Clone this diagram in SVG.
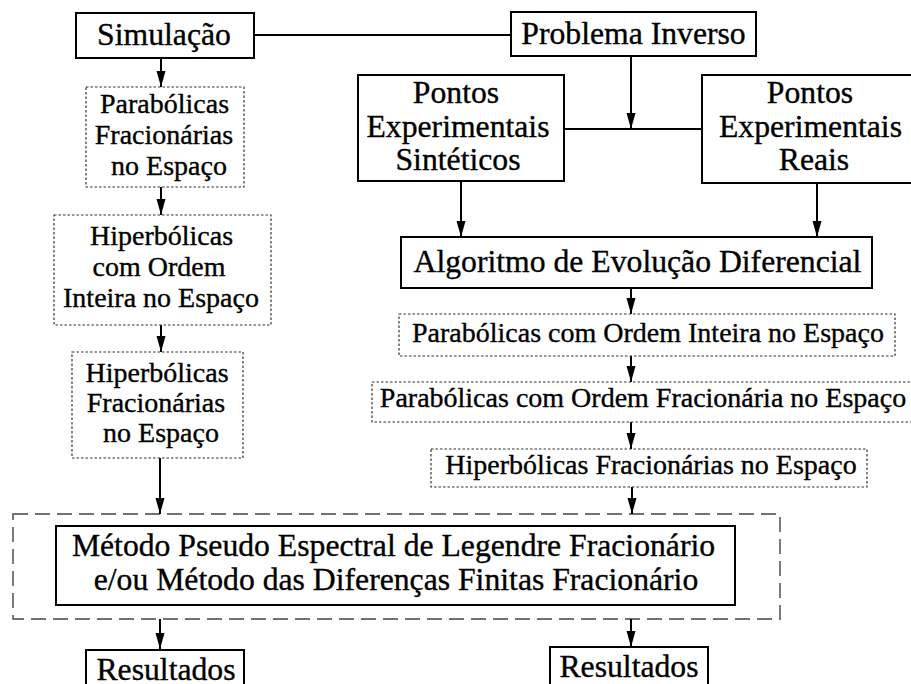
<svg xmlns="http://www.w3.org/2000/svg" width="911" height="684" viewBox="0 0 911 684">
<style>
text{font-family:'Liberation Serif','Times New Roman',serif;fill:#000;stroke:#000;stroke-width:0.35;text-anchor:middle}
.big{font-size:31.7px}
.sm{font-size:28px}
.solid{fill:#fff;stroke:#000;stroke-width:2}
.dot{fill:#fff;stroke:#333;stroke-width:1.2;stroke-dasharray:2.5 2}
.dash{fill:none;stroke:#444;stroke-width:1.4;stroke-dasharray:15 7}
.con{stroke:#000;stroke-width:2;fill:none}
.arr{marker-end:url(#ah)}
</style>
<defs>
<marker id="ah" viewBox="0 0 16 10" refX="16" refY="5" markerWidth="16" markerHeight="10" markerUnits="userSpaceOnUse" orient="auto">
<path d="M0,0.5 L16,5 L0,9.5 z" fill="#000"/>
</marker>
</defs>
<rect width="911" height="684" fill="#fff"/>

<g id="outer">
<rect class="dash" x="13" y="514" width="767" height="105"/>
</g>

<g id="connectors">
<line class="con" x1="254" y1="35" x2="511" y2="35"/>
<line class="con" x1="564" y1="129" x2="702" y2="129"/>
<line class="con arr" x1="161" y1="58" x2="161" y2="87"/>
<line class="con arr" x1="161" y1="187" x2="161" y2="215"/>
<line class="con arr" x1="161" y1="325" x2="161" y2="352"/>
<line class="con arr" x1="160" y1="458" x2="160" y2="514"/>
<line class="con arr" x1="160" y1="619" x2="160" y2="649"/>
<line class="con arr" x1="631" y1="56" x2="631" y2="129"/>
<line class="con arr" x1="461" y1="181" x2="461" y2="237"/>
<line class="con arr" x1="817" y1="183" x2="817" y2="237"/>
<line class="con arr" x1="631" y1="288" x2="631" y2="314"/>
<line class="con arr" x1="631" y1="356" x2="631" y2="382"/>
<line class="con arr" x1="631" y1="422" x2="631" y2="449"/>
<line class="con arr" x1="632" y1="487" x2="632" y2="514"/>
<line class="con arr" x1="631" y1="619" x2="631" y2="647"/>
</g>

<g id="simulacao">
<rect class="solid" x="76" y="13" width="178" height="45"/>
<text class="big" x="164" y="45">Simulação</text>
</g>

<g id="problema">
<rect class="solid" x="511" y="12" width="245" height="44"/>
<text class="big" x="633.5" y="44">Problema Inverso</text>
</g>

<g id="sinteticos">
<rect class="solid" x="358" y="75" width="206" height="106"/>
<text class="big" x="456" y="103">Pontos</text>
<text class="big" x="458" y="137">Experimentais</text>
<text class="big" x="458" y="170">Sintéticos</text>
</g>

<g id="reais">
<rect class="solid" x="702" y="75" width="218" height="108"/>
<text class="big" x="810" y="103">Pontos</text>
<text class="big" x="810.5" y="137">Experimentais</text>
<text class="big" x="814" y="170">Reais</text>
</g>

<g id="parab-frac-left">
<rect class="dot" x="86" y="87" width="158" height="100"/>
<text class="sm" x="164.5" y="113">Parabólicas</text>
<text class="sm" x="164" y="144">Fracionárias</text>
<text class="sm" x="169" y="175">no Espaço</text>
</g>

<g id="hiperb-ordem">
<rect class="dot" x="54" y="215" width="217" height="110"/>
<text class="sm" x="161.5" y="245">Hiperbólicas</text>
<text class="sm" x="159" y="276">com Ordem</text>
<text class="sm" x="161" y="306.5">Inteira no Espaço</text>
</g>

<g id="hiperb-frac-left">
<rect class="dot" x="72" y="352" width="171" height="106"/>
<text class="sm" x="157" y="381.5">Hiperbólicas</text>
<text class="sm" x="156" y="412">Fracionárias</text>
<text class="sm" x="161" y="442">no Espaço</text>
</g>

<g id="algoritmo">
<rect class="solid" x="401" y="237" width="471" height="51"/>
<text class="big" x="637.5" y="272">Algoritmo de Evolução Diferencial</text>
</g>

<g id="parab-inteira">
<rect class="dot" x="399" y="314" width="496" height="42"/>
<text class="sm" x="648" y="341.5">Parabólicas com Ordem Inteira no Espaço</text>
</g>

<g id="parab-frac-right">
<rect class="dot" x="372" y="382" width="545" height="40"/>
<text class="sm" x="643" y="406.5">Parabólicas com Ordem Fracionária no Espaço</text>
</g>

<g id="hiperb-frac-right">
<rect class="dot" x="431" y="449" width="436" height="38"/>
<text class="sm" x="651" y="474">Hiperbólicas Fracionárias no Espaço</text>
</g>

<g id="metodo">
<rect class="solid" x="56" y="526" width="679" height="79"/>
<text class="big" x="393.5" y="556">Método Pseudo Espectral de Legendre Fracionário</text>
<text class="big" x="396" y="590">e/ou Método das Diferenças Finitas Fracionário</text>
</g>

<g id="resultados-left">
<rect class="solid" x="86" y="650" width="158" height="40"/>
<text class="big" x="166" y="680">Resultados</text>
</g>

<g id="resultados-right">
<rect class="solid" x="550" y="647" width="158" height="43"/>
<text class="big" x="629" y="677">Resultados</text>
</g>
</svg>
